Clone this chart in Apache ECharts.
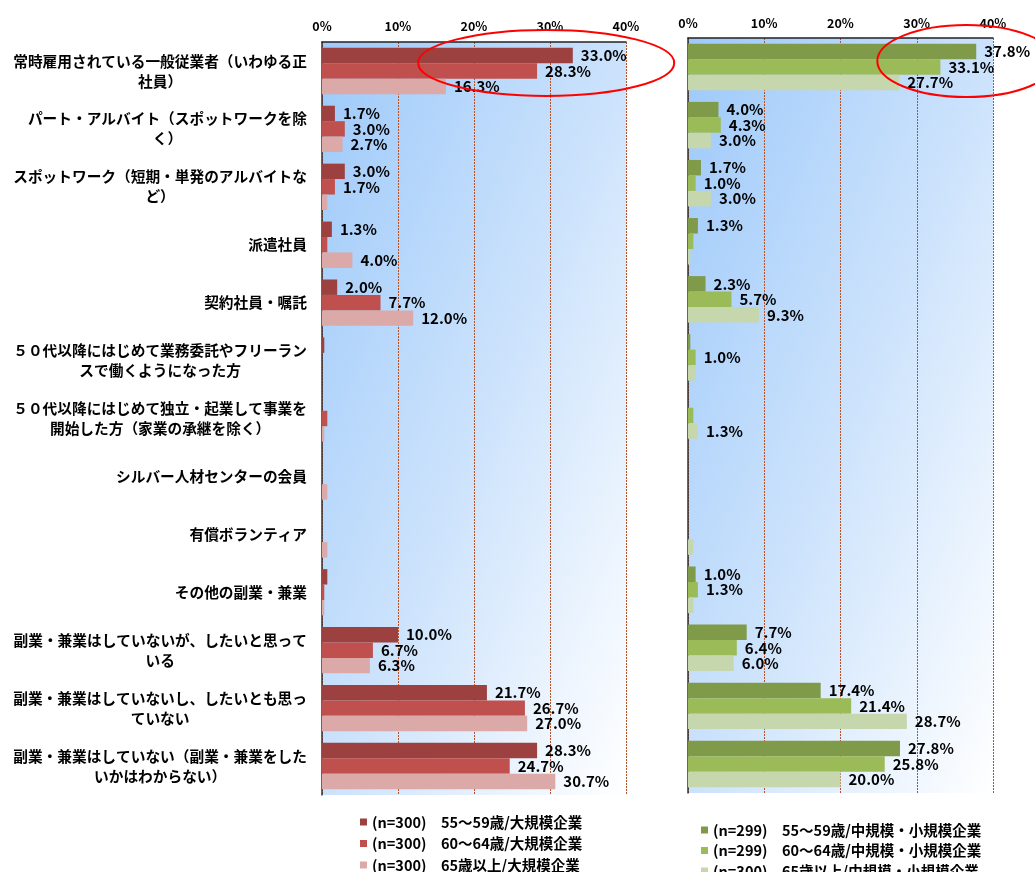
<!DOCTYPE html>
<html>
<head>
<meta charset="utf-8">
<script src="https://cdn.jsdelivr.net/npm/echarts@6/dist/echarts.min.js"></script>
<style>
  html, body { margin: 0; padding: 0; background: #ffffff; }
  #chart { width: 1035px; height: 872px; }
</style>
</head>
<body>
<div id="chart"></div>
<script>
// Work-style categories (shared by both panels)
const categories = [
  '常時雇用されている一般従業者（いわゆる正\n社員）',
  'パート・アルバイト（スポットワークを除\nく）',
  'スポットワーク（短期・単発のアルバイトな\nど）',
  '派遣社員',
  '契約社員・嘱託',
  '５０代以降にはじめて業務委託やフリーラン\nスで働くようになった方',
  '５０代以降にはじめて独立・起業して事業を\n開始した方（家業の承継を除く）',
  'シルバー人材センターの会員',
  '有償ボランティア',
  'その他の副業・兼業',
  '副業・兼業はしていないが、したいと思って\nいる',
  '副業・兼業はしていないし、したいとも思っ\nていない',
  '副業・兼業はしていない（副業・兼業をした\nいかはわからない）'
];

const xTicks = [0, 10, 20, 30, 40];

// Large companies (%)
const largeNames = [
  '(n=300)　55～59歳/大規模企業',
  '(n=300)　60～64歳/大規模企業',
  '(n=300)　65歳以上/大規模企業'
];
const large5559 = [33.0, 1.7, 3.0, 1.3, 2.0, 0.3, 0, 0, 0, 0.7, 10.0, 21.7, 28.3];
const large6064 = [28.3, 3.0, 1.7, 0.7, 7.7, 0, 0.7, 0, 0, 0.3, 6.7, 26.7, 24.7];
const large65 = [16.3, 2.7, 0.7, 4.0, 12.0, 0, 0.3, 0.7, 0.7, 0.3, 6.3, 27.0, 30.7];

// Medium and small companies (%)
const smallNames = [
  '(n=299)　55～59歳/中規模・小規模企業',
  '(n=299)　60～64歳/中規模・小規模企業',
  '(n=300)　65歳以上/中規模・小規模企業'
];
const small5559 = [37.8, 4.0, 1.7, 1.3, 2.3, 0.3, 0, 0, 0, 1.0, 7.7, 17.4, 27.8];
const small6064 = [33.1, 4.3, 1.0, 0.7, 5.7, 1.0, 0.7, 0, 0, 1.3, 6.4, 21.4, 25.8];
const small65 = [27.7, 3.0, 3.0, 0.3, 9.3, 1.0, 1.3, 0, 0.7, 0.7, 6.0, 28.7, 20.0];
// labels that are left off in the panel
const small65Unlabeled = [5];

const largeColors = ['#9c4140', '#c0504d', '#dba9a8'];
const smallColors = ['#7f9a49', '#9bbb59', '#c7d7ad'];

const FONT_JP = "'Noto Sans CJK JP', sans-serif";
const FONT_NUM = "'Noto Sans CJK JP', sans-serif";

const W = 1035, H = 872;
const gridL = { left: 322, top: 42, width: 304, height: 753 };
const gridR = { left: 688, top: 38, width: 305, height: 755 };

// Diagonal fill whose colour bands run corner to corner of the plot box
function plotFill(g) {
  const w = g.width, h = g.height, s = h * h + w * w;
  return {
    type: 'linear', x: 0, y: 0,
    x2: 2 * h * h / s, y2: 2 * w * w / s,
    colorStops: [
      { offset: 0, color: '#9dc9fa' },
      { offset: 0.5, color: '#cbe2fc' },
      { offset: 1, color: '#ffffff' }
    ]
  };
}

function xAxisFor(gi, margin) {
  return {
    gridIndex: gi, type: 'value', position: 'top',
    min: xTicks[0], max: xTicks[xTicks.length - 1], interval: xTicks[1] - xTicks[0],
    axisLine: { show: true, onZero: false, lineStyle: { color: '#222', width: 1.5 } },
    axisTick: { show: false },
    axisLabel: {
      margin: margin, formatter: '{value}%', color: '#000',
      fontFamily: FONT_NUM, fontWeight: 'bold', fontSize: 12.5
    },
    splitLine: { show: true, lineStyle: { color: '#b4532a', width: 1, type: [2, 1] } }
  };
}

function yAxisFor(gi, showLabels) {
  return {
    gridIndex: gi, type: 'category', data: categories, inverse: true,
    axisLine: { show: true, lineStyle: { color: '#333', width: 1.5 } },
    axisTick: { show: false },
    splitLine: { show: false },
    axisLabel: {
      show: showLabels, margin: 15, align: 'right',
      formatter: v => v.split('\n').map(s => '{c|' + s + '}').join('\n'),
      rich: {
        c: {
          align: 'center', fontFamily: FONT_JP, fontWeight: 'bold',
          fontSize: 14.7, lineHeight: 20, color: '#000'
        }
      }
    }
  };
}

const barLabel = {
  show: true, position: 'right', distance: 8,
  color: '#000', fontFamily: FONT_NUM, fontWeight: 'bold', fontSize: 15,
  formatter: p => (p.value >= 1 ? p.value.toFixed(1) + '%' : '')
};

function barSeries(name, values, color, gi, hidden) {
  return {
    name: name, type: 'bar', xAxisIndex: gi, yAxisIndex: gi,
    barGap: '0%', barCategoryGap: '20%',
    itemStyle: { color: color },
    label: barLabel,
    data: values.map((v, i) =>
      hidden && hidden.includes(i) ? { value: v, label: { show: false } } : v),
    animation: false
  };
}

const legendText = { color: '#000', fontFamily: FONT_JP, fontWeight: 'bold', fontSize: 14.5, lineHeight: 16 };

const chart = echarts.init(document.getElementById('chart'), null, { renderer: 'canvas', width: W, height: H });

chart.setOption({
  backgroundColor: '#ffffff',
  animation: false,
  grid: [
    Object.assign({ show: true, borderWidth: 0, backgroundColor: plotFill(gridL) }, gridL),
    Object.assign({ show: true, borderWidth: 0, backgroundColor: plotFill(gridR) }, gridR)
  ],
  xAxis: [xAxisFor(0, 9), xAxisFor(1, 8)],
  yAxis: [yAxisFor(0, true), yAxisFor(1, false)],
  legend: [
    {
      orient: 'vertical', left: 360, top: 814, height: 120, padding: 0, itemGap: 5.5,
      itemWidth: 7, itemHeight: 7, icon: 'rect', selectedMode: false,
      textStyle: legendText, data: largeNames
    },
    {
      orient: 'vertical', left: 701, top: 822, height: 120, padding: 0, itemGap: 4.5,
      itemWidth: 7, itemHeight: 7, icon: 'rect', selectedMode: false,
      textStyle: legendText, data: smallNames
    }
  ],
  series: [
    barSeries(largeNames[0], large5559, largeColors[0], 0),
    barSeries(largeNames[1], large6064, largeColors[1], 0),
    barSeries(largeNames[2], large65, largeColors[2], 0),
    barSeries(smallNames[0], small5559, smallColors[0], 1),
    barSeries(smallNames[1], small6064, smallColors[1], 1),
    barSeries(smallNames[2], small65, smallColors[2], 1, small65Unlabeled)
  ]
});

// Red rings highlighting the regular-employee row in each panel
const ringL = chart.convertToPixel({ xAxisIndex: 0, yAxisIndex: 0 }, [29.5, categories[0]]);
const ringR = chart.convertToPixel({ xAxisIndex: 1, yAxisIndex: 1 }, [36.5, categories[0]]);
chart.setOption({
  graphic: [
    {
      type: 'ellipse', z: 100, silent: true,
      shape: { cx: ringL[0], cy: ringL[1] - 8, rx: 128, ry: 33 },
      style: { fill: 'none', stroke: '#ff0000', lineWidth: 2 }
    },
    {
      type: 'ellipse', z: 100, silent: true,
      shape: { cx: ringR[0], cy: ringR[1] - 6, rx: 89, ry: 36 },
      style: { fill: 'none', stroke: '#ff0000', lineWidth: 2 }
    }
  ]
});
</script>
</body>
</html>
